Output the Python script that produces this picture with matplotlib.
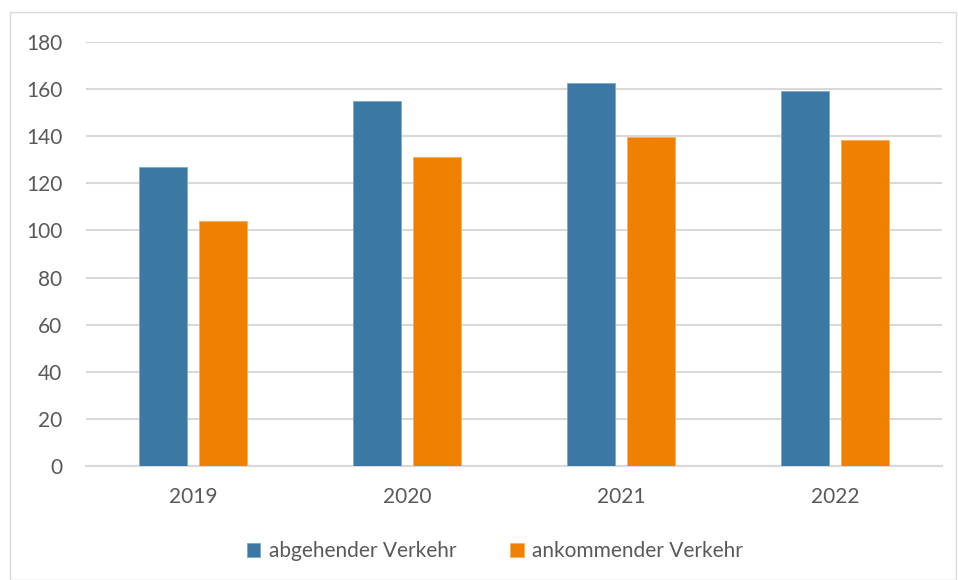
import matplotlib.pyplot as plt
import numpy as np
from matplotlib.patches import Rectangle

years = ['2019', '2020', '2021', '2022']
abgehend = [127.1, 155.0, 162.7, 159.4]
ankommend = [104.1, 131.1, 139.8, 138.3]

plt.rcParams['font.family'] = ['Lato', 'DejaVu Sans']

fig = plt.figure(figsize=(9.58, 5.80), dpi=100)
ax = fig.add_axes([86 / 958, 1 - 466 / 580, (942 - 86) / 958, (466 - 42) / 580])

x = np.arange(len(years))
w = 0.224
off = w / 2 + 0.03
ax.bar(x - off, abgehend, w, color='#3B78A4', edgecolor='#7FA8C8', linewidth=0.6,
       label='abgehender Verkehr', zorder=3)
ax.bar(x + off, ankommend, w, color='#F08000', edgecolor='#F5B060', linewidth=0.6,
       label='ankommender Verkehr', zorder=3)

ax.set_xlim(-0.5, 3.5)
ax.set_ylim(0, 180)
ax.set_yticks(range(0, 181, 20))
ax.set_xticks(x)
ax.set_xticklabels(years)
ax.grid(axis='y', color='#D9D9D9', linewidth=1.5, zorder=0)
for s in ['top', 'right', 'left']:
    ax.spines[s].set_visible(False)
ax.spines['bottom'].set_color('#D9D9D9')
ax.spines['bottom'].set_linewidth(1.5)
ax.tick_params(axis='both', length=0, labelsize=15, labelcolor='#595959')
ax.tick_params(axis='x', pad=15)
ax.tick_params(axis='y', pad=17)

leg = fig.legend(loc='center', bbox_to_anchor=(495 / 958, 1 - 551 / 580), ncol=2,
                 frameon=False, fontsize=15, handlelength=0.65, handleheight=0.65,
                 handletextpad=0.4, columnspacing=2.6)
for t in leg.get_texts():
    t.set_color('#595959')

fig.patches.append(Rectangle((10 / 958, 0), 946 / 958, 1 - 12 / 580, transform=fig.transFigure,
                             fill=False, edgecolor='#D9D9D9', linewidth=1.0))

fig.savefig('out.png', dpi=100)
